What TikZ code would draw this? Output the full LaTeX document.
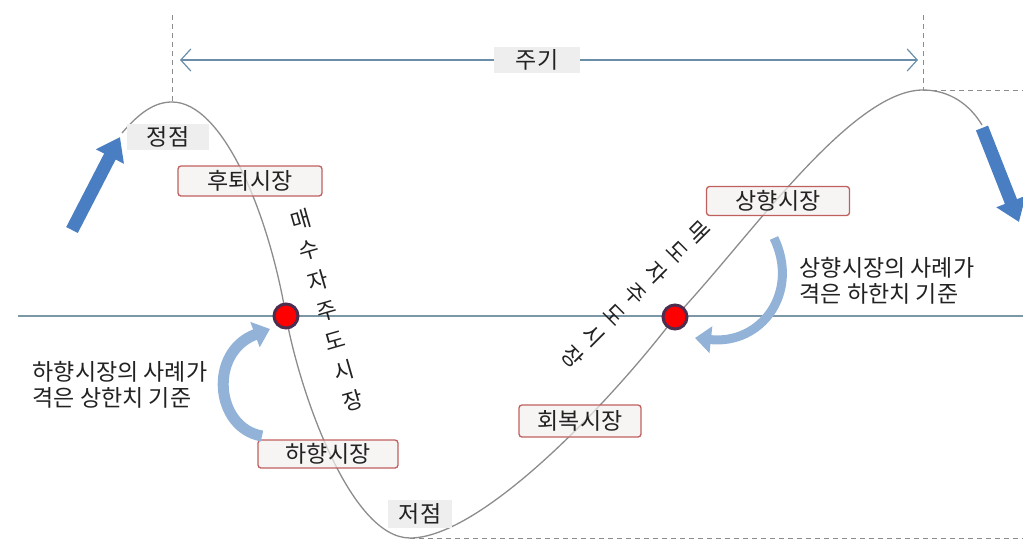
\documentclass[tikz,border=0pt]{standalone}
\usepackage{fontspec}
\setmainfont{Noto Sans CJK KR}
\usetikzlibrary{arrows.meta}
\definecolor{curvegray}{HTML}{8C8C8C}
\definecolor{axisline}{HTML}{7C98A6}
\definecolor{periodc}{HTML}{6B8EA8}
\definecolor{boxred}{HTML}{C0605E}
\definecolor{boxfill}{HTML}{F3EFEF}
\definecolor{labelfill}{HTML}{EEEEEE}
\definecolor{darkblue}{HTML}{4A7EC2}
\definecolor{lightblue}{HTML}{92B2D8}
\definecolor{dotrim}{HTML}{4E2E4E}
\definecolor{txt}{HTML}{222222}
\begin{document}
\begin{tikzpicture}[x=1pt,y=-1pt,
  every node/.style={text=txt, font=\fontsize{23}{27}\selectfont},
  marketbox/.style={draw=boxred, line width=1.3pt, rounded corners=3pt, fill=boxfill, fill opacity=0.7, text opacity=1, inner sep=0pt},
  graylabel/.style={fill=labelfill, inner sep=0pt},
  guide/.style={curvegray, line width=1pt, dash pattern=on 5pt off 4pt},
  reddot/.style={circle, fill=red, draw=dotrim, line width=3pt, minimum size=24pt, inner sep=0pt},
  bigarrow/.style={darkblue, line width=13pt, -{Triangle[length=22pt,width=30pt]}},
  softarrow/.style={lightblue, -{Triangle[length=16pt,width=26pt]}},
  column/.style={inner sep=0pt, align=center}
]
\useasboundingbox (0,0) rectangle (1023,547);
% guide lines
\coordinate (v1top) at (172,15);
\coordinate (peak1) at (172,102);
\coordinate (v2top) at (923,15);
\coordinate (peak2) at (923,90);
\coordinate (rightend) at (1023,90);
\coordinate (trough) at (410,538);
\coordinate (bottomend) at (1023,538);
\draw[guide] (v1top) -- (peak1);
\draw[guide] (v2top) -- (peak2);
\draw[guide] (peak2) -- (rightend);
\draw[guide] (trough) -- (bottomend);
% axis
\coordinate (axL) at (18,316);
\coordinate (axR) at (1023,316);
\draw[axisline, line width=1.6pt] (axL) -- (axR);
% period
\coordinate (pL) at (180,60);
\coordinate (pR) at (918,60);
\draw[periodc, line width=1.2pt, {Straight Barb[length=10pt,width=22pt]}-{Straight Barb[length=10pt,width=22pt]}] (pL) -- (pR);
\node[graylabel, minimum width=86pt, minimum height=26pt] (period) at (537,60) {주기};
% curve
\coordinate (cstart) at (122,133);
\coordinate (dot1c) at (286,316);
\coordinate (dot2c) at (675,317);
\coordinate (cend) at (982,125);
\draw[curvegray, line width=1.3pt] (cstart) .. controls (140,112) and (155,102) .. (peak1)
  .. controls (222,102) and (268,210) .. (dot1c)
  .. controls (299,390) and (350,538) .. (trough)
  .. controls (482,538) and (612,400) .. (dot2c)
  .. controls (745,244) and (850,90) .. (peak2)
  .. controls (950,90) and (970,105) .. (cend);
% gray labels
\node[graylabel, minimum width=82pt, minimum height=26pt] (top1) at (168,137) {정점};
\node[graylabel, minimum width=64pt, minimum height=28pt] (bottom1) at (420,514) {저점};
% market boxes
\node[marketbox, minimum width=144pt, minimum height=30pt] (retreat) at (250,181) {후퇴시장};
\node[marketbox, minimum width=140pt, minimum height=28pt] (down) at (328,454) {하향시장};
\node[marketbox, minimum width=122pt, minimum height=32pt] (recover) at (580,421) {회복시장};
\node[marketbox, minimum width=143pt, minimum height=29pt] (up) at (778,201) {상향시장};
% red dots
\node[reddot] (dot1) at (dot1c) {};
\node[reddot] (dot2) at (dot2c) {};
% vertical texts
\node[column, rotate=16, font=\fontsize{22}{31.4}\selectfont] (buyers) at (326.5,310.5) {매\\수\\자\\주\\도\\시\\장};
\node[column, rotate=-45, font=\fontsize{22}{29.5}\selectfont] (sellers) at (635.5,294) {매\\도\\자\\주\\도\\시\\장};
% notes
\node[inner sep=0pt, align=left, font=\fontsize{23}{26}\selectfont] (lnote) at (120,385) {하향시장의 사례가\\격은 상한치 기준};
\node[inner sep=0pt, align=left, font=\fontsize{23}{26}\selectfont] (rnote) at (887,281) {상향시장의 사례가\\격은 하한치 기준};
% soft curved arrows
\coordinate (sa1s) at (262,436);
\coordinate (sa1e) at (270,329);
\draw[softarrow, line width=11pt] (sa1s) .. controls (215,428) and (208,352) .. (sa1e);
\coordinate (sa2s) at (774,238);
\coordinate (sa2e) at (695,338);
\draw[softarrow, line width=9pt] (sa2s) .. controls (800,292) and (762,345) .. (sa2e);
% big blue arrows
\coordinate (ba1s) at (72,230);
\coordinate (ba1e) at (120,137);
\draw[bigarrow] (ba1s) -- (ba1e);
\coordinate (ba2s) at (982,128);
\coordinate (ba2e) at (1019,222);
\draw[bigarrow] (ba2s) -- (ba2e);
\end{tikzpicture}
\end{document}
